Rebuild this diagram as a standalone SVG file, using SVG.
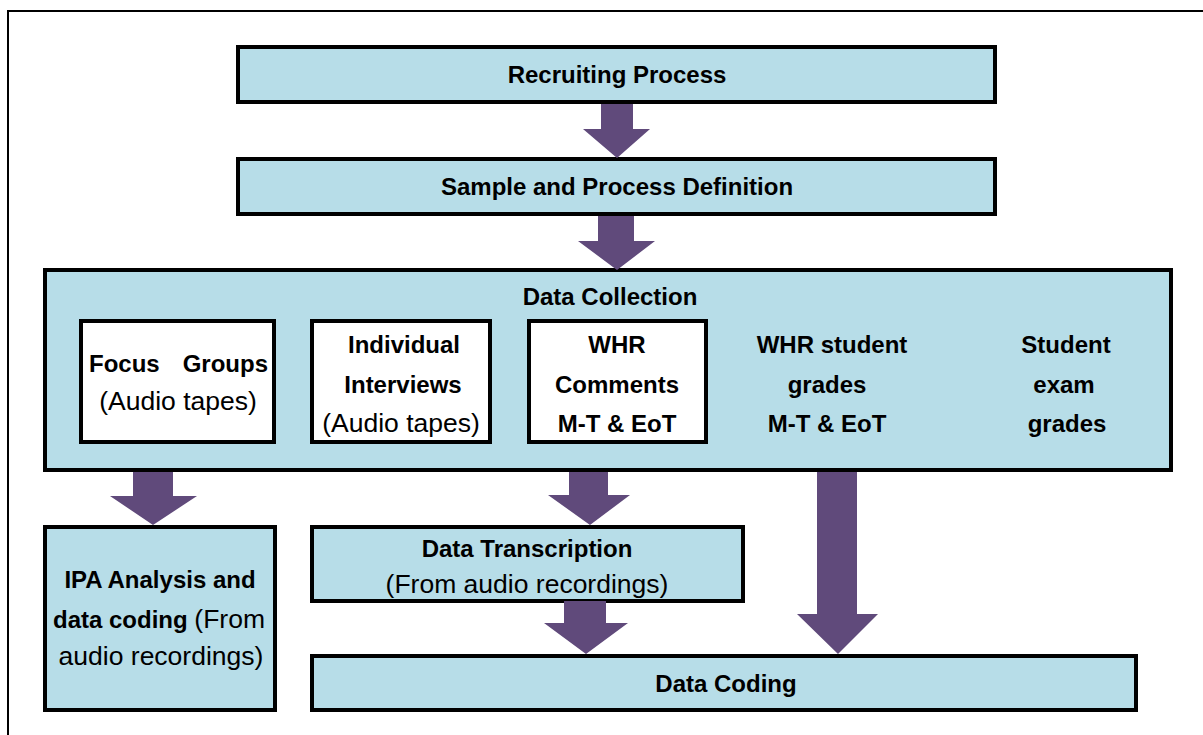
<svg xmlns="http://www.w3.org/2000/svg" width="1203" height="735" viewBox="0 0 1203 735">
<style>
.box{fill:#B7DDE8;stroke:#000;stroke-width:4}
.wbox{fill:#fff;stroke:#000;stroke-width:4}
.b{font-family:"Liberation Sans",Arial,sans-serif;font-weight:bold;font-size:24px;fill:#000}
.r{font-family:"Liberation Sans",Arial,sans-serif;font-weight:normal;font-size:26.5px;fill:#000}
.c{text-anchor:middle}
.arrow{fill:#604A7B;stroke:none}
</style>
<rect width="1203" height="735" fill="#fff"/>
<path d="M8,735 V11 H1203" fill="none" stroke="#000" stroke-width="2"/>

<g id="recruiting">
<rect class="box" x="238" y="47" width="757" height="55"/>
<text class="b c" x="617" y="83">Recruiting Process</text>
</g>
<g id="sample">
<rect class="box" x="238" y="159" width="757" height="55"/>
<text class="b c" x="617" y="195">Sample and Process Definition</text>
</g>
<g id="collection">
<rect class="box" x="45" y="270" width="1126" height="200"/>
<text class="b c" x="610" y="305">Data Collection</text>
</g>
<g id="focus">
<rect class="wbox" x="81" y="321" width="193" height="121"/>
<text class="b" x="89" y="372">Focus</text>
<text class="b" x="268" y="372" text-anchor="end">Groups</text>
<text class="r c" x="178" y="410">(Audio tapes)</text>
</g>
<g id="interviews">
<rect class="wbox" x="312" y="321" width="178" height="121"/>
<text class="b c" x="404" y="353">Individual</text>
<text class="b c" x="403" y="393">Interviews</text>
<text class="r c" x="401" y="432">(Audio tapes)</text>
</g>
<g id="whr-comments">
<rect class="wbox" x="529" y="321" width="177" height="121"/>
<text class="b c" x="617" y="353">WHR</text>
<text class="b c" x="617" y="393">Comments</text>
<text class="b c" x="617" y="432">M-T &amp; EoT</text>
</g>
<g id="whr-grades">
<text class="b c" x="832" y="353">WHR student</text>
<text class="b c" x="827" y="393">grades</text>
<text class="b c" x="827" y="432">M-T &amp; EoT</text>
</g>
<g id="exam-grades">
<text class="b c" x="1066" y="353">Student</text>
<text class="b c" x="1064" y="393">exam</text>
<text class="b c" x="1067" y="432">grades</text>
</g>
<g id="ipa">
<rect class="box" x="45" y="527" width="230" height="183"/>
<text class="b c" x="160" y="588">IPA Analysis and</text>
<text x="53" y="628"><tspan class="b">data coding </tspan><tspan class="r">(From</tspan></text>
<text class="r c" x="161" y="665">audio recordings)</text>
</g>
<g id="transcription">
<rect class="box" x="312" y="527" width="431" height="74"/>
<text class="b c" x="527" y="557">Data Transcription</text>
<text class="r c" x="527" y="593">(From audio recordings)</text>
</g>
<g id="coding">
<rect class="box" x="312" y="656" width="824" height="54"/>
<text class="b c" x="726" y="692">Data Coding</text>
</g>

<g id="connectors">
<polygon class="arrow" points="601,104 633,104 633,129 650,129 617,158 583,129 601,129"/>
<polygon class="arrow" points="598,216 634,216 634,241 655,241 617,270 578,241 598,241"/>
<polygon class="arrow" points="133,472 173,472 173,496 197,496 153,525 110,496 133,496"/>
<polygon class="arrow" points="569,472 608,472 608,495 630,495 590,525 548,495 569,495"/>
<polygon class="arrow" points="564,601 606,601 606,623 628,623 586,654 544,623 564,623"/>
<polygon class="arrow" points="817,472 857,472 857,614 878,614 838,654 797,614 817,614"/>
</g>
</svg>
